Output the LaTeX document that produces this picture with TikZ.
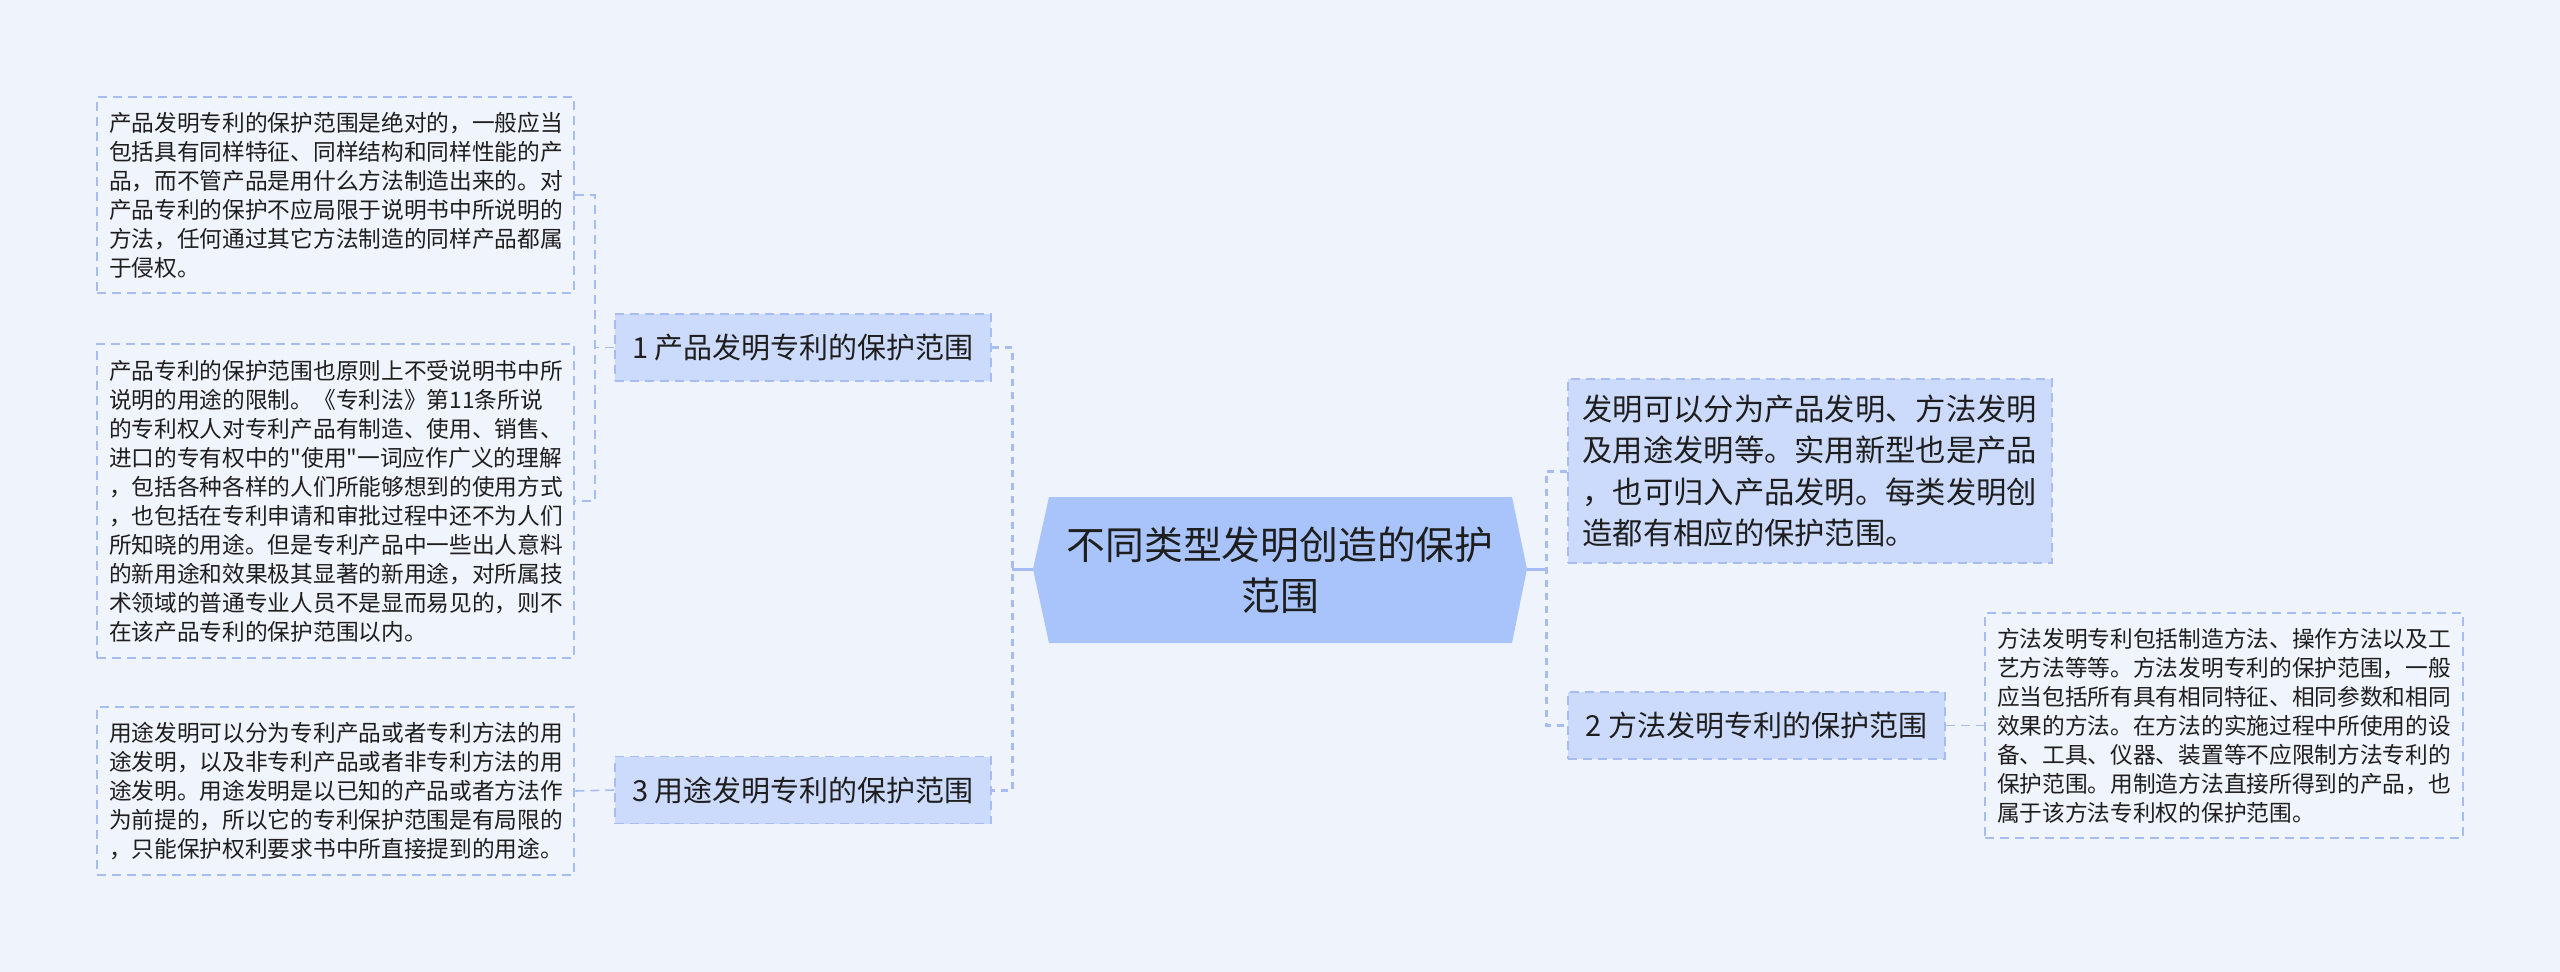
\documentclass[tikz,border=0pt]{standalone}
\usepackage{fontspec}
\setmainfont{Noto Sans CJK SC}[Ligatures=TeXOff]
\definecolor{bg}{RGB}{239,243,251}
\definecolor{detfill}{RGB}{240,244,252}
\definecolor{lvlfill}{RGB}{204,219,252}
\definecolor{ctrfill}{RGB}{169,196,251}
\definecolor{edgec}{RGB}{166,188,242}
\definecolor{txt}{RGB}{30,30,30}
\begin{document}
\begin{tikzpicture}[x=1pt,y=-1pt,
  detailbox/.style={draw=edgec, line width=1.5pt, dash pattern=on 9pt off 6pt, fill=detfill, text=txt,
    align=left, inner xsep=12pt, inner ysep=0pt, font=\fontsize{22.7}{29}\selectfont, anchor=center},
  lvlbox/.style={draw=edgec, line width=1.5pt, dash pattern=on 9pt off 6pt, fill=lvlfill, text=txt,
    font=\fontsize{29}{36}\selectfont, inner sep=0pt, minimum height=67pt, minimum width=376pt, anchor=center},
  bigbox/.style={draw=edgec, line width=1.5pt, dash pattern=on 9pt off 6pt, fill=lvlfill, text=txt,
    align=left, inner xsep=14.5pt, inner ysep=0pt, font=\fontsize{30.3}{41.5}\selectfont, anchor=center},
  trunk/.style={draw=edgec, line width=3pt, dash pattern=on 7pt off 6pt},
  solidlink/.style={draw=edgec, line width=3pt},
  thinlink/.style={draw=edgec, line width=1.6pt, dash pattern=on 9pt off 6pt},
]
\useasboundingbox (0,0) rectangle (2560,972);
\fill[bg] (0,0) rectangle (2560,972);

% centre hexagon
\fill[ctrfill] (1033,569) -- (1049,497) -- (1512,497) -- (1527,569) -- (1512,643) -- (1049,643) -- cycle;
\coordinate (cw) at (1033,569);
\coordinate (ce) at (1527,569);
\node[text=txt, align=center, text width=440pt, font=\fontsize{38.8}{51}\selectfont] (c) at (1280,570) {不同类型发明创造的保护\\范围};

% level-1 nodes
\node[lvlbox] (n1) at (803,347.5) {1 产品发明专利的保护范围};
\node[lvlbox] (n3) at (803,790) {3 用途发明专利的保护范围};
\node[lvlbox, minimum width=377pt] (n2) at (1756.5,725.5) {2 方法发明专利的保护范围};
\node[bigbox, text width=455pt, minimum height=184pt] (rb) at (1810,471) {发明可以分为产品发明、方法发明\\及用途发明等。实用新型也是产品\\，也可归入产品发明。每类发明创\\造都有相应的保护范围。};

% detail nodes
\node[detailbox, text width=453pt, minimum height=196pt] (d1) at (335.5,195) {产品发明专利的保护范围是绝对的，一般应当\\包括具有同样特征、同样结构和同样性能的产\\品，而不管产品是用什么方法制造出来的。对\\产品专利的保护不应局限于说明书中所说明的\\方法，任何通过其它方法制造的同样产品都属\\于侵权。};
\node[detailbox, text width=453pt, minimum height=314pt] (d2) at (335.5,501) {产品专利的保护范围也原则上不受说明书中所\\说明的用途的限制。《专利法》第11条所说\\的专利权人对专利产品有制造、使用、销售、\\进口的专有权中的"使用"一词应作广义的理解\\，包括各种各样的人们所能够想到的使用方式\\，也包括在专利申请和审批过程中还不为人们\\所知晓的用途。但是专利产品中一些出人意料\\的新用途和效果极其显著的新用途，对所属技\\术领域的普通专业人员不是显而易见的，则不\\在该产品专利的保护范围以内。};
\node[detailbox, text width=453pt, minimum height=168pt] (d3) at (335.5,791) {用途发明可以分为专利产品或者专利方法的用\\途发明，以及非专利产品或者非专利方法的用\\途发明。用途发明是以已知的产品或者方法作\\为前提的，所以它的专利保护范围是有局限的\\，只能保护权利要求书中所直接提到的用途。};
\node[detailbox, text width=454pt, minimum height=225pt] (d4) at (2224,725.5) {方法发明专利包括制造方法、操作方法以及工\\艺方法等等。方法发明专利的保护范围，一般\\应当包括所有具有相同特征、相同参数和相同\\效果的方法。在方法的实施过程中所使用的设\\备、工具、仪器、装置等不应限制方法专利的\\保护范围。用制造方法直接所得到的产品，也\\属于该方法专利权的保护范围。};

% connectors: centre to level 1
\coordinate (tl) at (1012,569);
\coordinate (tr) at (1547,569);
\draw[trunk] (n1.east) -- ++(21,0) |- (n3.east);
\draw[solidlink] (cw) -- (tl);
\draw[trunk] (rb.west) -- ++(-21,0) |- (n2.west);
\draw[solidlink] (ce) -- (tr);

% connectors: level 1 to details
\coordinate (jl) at (594,347.5);
\draw[thinlink] (d1.east) -- ++(20,0) |- (d2.east);
\draw[thinlink] (n1.west) -- (jl);
\draw[thinlink] (n3.west) -- (d3.east);
\draw[thinlink] (n2.east) -- (d4.west);
\end{tikzpicture}
\end{document}
